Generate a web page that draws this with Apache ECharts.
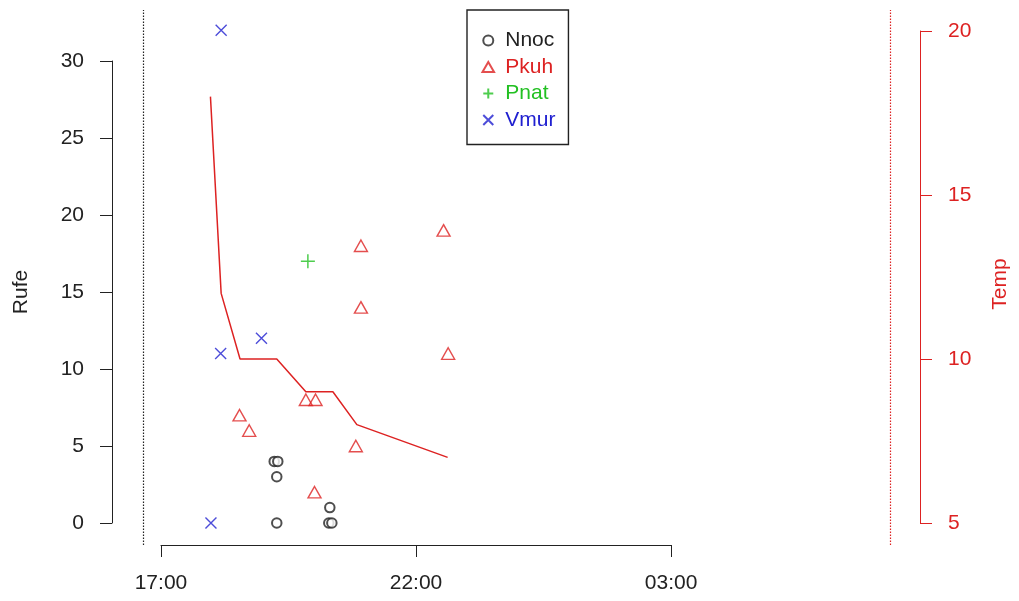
<!DOCTYPE html>
<html>
<head>
<meta charset="utf-8">
<script src="https://cdn.jsdelivr.net/npm/echarts@6/dist/echarts.min.js"></script>
<style>
html, body { margin: 0; padding: 0; background: #fff; }
#main { width: 1019px; height: 601px; }
</style>
</head>
<body>
<div id="main"></div>
<script>
// zeit in stunden (24+ = naechster tag), werte = anzahl rufe
var nnocTime = [19.22, 19.29, 19.27, 19.27, 20.31, 20.29, 20.35];
var nnocRufe = [4, 4, 3, 0, 1, 0, 0];

var pkuhTime = [20.92, 22.63, 19.84, 20.03, 18.54, 18.73, 20.82, 20.01, 20.92, 22.54];
var pkuhRufe = [14, 11, 8, 8, 7, 6, 5, 2, 18, 19];

var pnatTime = [19.88];
var pnatRufe = [17];

var vmurTime = [18.18, 18.17, 18.97, 17.98];
var vmurRufe = [32, 11, 12, 0];

// temperatur
var tempTime = [17.97, 18.18, 18.55, 19.27, 19.84, 20.37, 20.84, 22.62];
var tempVal = [18, 12, 10, 10, 9, 9, 8, 7];

// sonnenuntergang / -aufgang
var sunset = 16.65;
var sunrise = 31.29;

var xTicks = [17, 22, 27];
var rufeTicks = [0, 30];
var tempTicks = [5, 20];

var RED = '#DD2222';
var GREEN = '#22C022';
var BLUE = '#2020D0';
var INK = '#222';
var FONT = '"Liberation Sans", Arial, sans-serif';
var FS = 21;

// plotbereich
var plot = { left: 112, right: 99, top: 10, bottom: 56 };
var W = 1019, H = 601;
var pw = W - plot.left - plot.right;
var ph = H - plot.top - plot.bottom;
var xMin = 16.04, xMax = 31.88;
var yMin = -1.43, yMax = 33.31;
var tMin = 4.33, tMax = 20.64;

function zip(a, b) {
	var out = [];
	for (var i = 0; i < a.length; i++) {
		out.push([a[i], b[i]]);
	}
	return out;
}

function fmtTime(v) {
	var h = v % 24;
	return (h < 10 ? '0' : '') + h + ':00';
}

// extra grids nur fuer die achsen im R-stil (linie nur zwischen erstem und letztem tick)
var xl = plot.left + (xTicks[0] - xMin) / (xMax - xMin) * pw;
var xr = plot.left + (xTicks[2] - xMin) / (xMax - xMin) * pw;
var yt = plot.top + (yMax - rufeTicks[1]) / (yMax - yMin) * ph;
var yb = plot.top + (yMax - rufeTicks[0]) / (yMax - yMin) * ph;
var tt = plot.top + (tMax - tempTicks[1]) / (tMax - tMin) * ph;
var tb = plot.top + (tMax - tempTicks[0]) / (tMax - tMin) * ph;

var option = {
	animation: false,
	backgroundColor: '#fff',
	textStyle: { fontFamily: FONT },
	grid: [
		{ left: plot.left, right: plot.right, top: plot.top, bottom: plot.bottom },
		{ left: xl, right: W - xr, top: plot.top, bottom: plot.bottom },
		{ left: plot.left, right: plot.right, top: yt, bottom: H - yb },
		{ left: plot.left, right: plot.right, top: tt, bottom: H - tb }
	],
	xAxis: [
		{ gridIndex: 0, type: 'value', min: xMin, max: xMax, show: false },
		{
			gridIndex: 1, type: 'value', min: xTicks[0], max: xTicks[2], interval: 5,
			axisLine: { show: true, onZero: false, lineStyle: { color: INK, width: 1 } },
			axisTick: { show: true, length: 12, lineStyle: { color: INK } },
			axisLabel: { color: INK, margin: 28, fontFamily: FONT, fontSize: FS, formatter: fmtTime },
			splitLine: { show: false }
		},
		{ gridIndex: 2, type: 'value', min: 0, max: 1, show: false },
		{ gridIndex: 3, type: 'value', min: 0, max: 1, show: false }
	],
	yAxis: [
		{ gridIndex: 0, type: 'value', min: yMin, max: yMax, show: false },
		{ gridIndex: 0, type: 'value', min: tMin, max: tMax, show: false },
		{ gridIndex: 1, type: 'value', min: 0, max: 1, show: false },
		{
			gridIndex: 2, type: 'value', position: 'left', min: rufeTicks[0], max: rufeTicks[1], interval: 5,
			name: 'Rufe', nameLocation: 'middle', nameRotate: 90, nameGap: 80,
			nameTextStyle: { color: INK, fontFamily: FONT, fontSize: FS },
			axisLine: { show: true, onZero: false, lineStyle: { color: INK, width: 1 } },
			axisTick: { show: true, length: 12, lineStyle: { color: INK } },
			axisLabel: { color: INK, margin: 28, fontFamily: FONT, fontSize: FS },
			splitLine: { show: false }
		},
		{
			gridIndex: 3, type: 'value', position: 'right', min: tempTicks[0], max: tempTicks[1], interval: 5,
			name: 'Temp', nameLocation: 'middle', nameRotate: 90, nameGap: 70,
			nameTextStyle: { color: RED, fontFamily: FONT, fontSize: FS, padding: [0, 0, 0, -14] },
			axisLine: { show: true, onZero: false, lineStyle: { color: RED, width: 1 } },
			axisTick: { show: true, length: 12, lineStyle: { color: RED } },
			axisLabel: { color: RED, margin: 28, fontFamily: FONT, fontSize: FS },
			splitLine: { show: false }
		}
	],
	legend: {
		left: 467, top: 10, orient: 'vertical',
		padding: [20, 13, 14, 13],
		itemWidth: 24, itemHeight: 10, itemGap: 5.5,
		borderColor: INK, borderWidth: 1.4,
		selectedMode: false,
		textStyle: { fontFamily: FONT, fontSize: FS },
		data: [
			{ name: 'Nnoc', textStyle: { color: INK } },
			{ name: 'Pkuh', textStyle: { color: RED } },
			{ name: 'Pnat', textStyle: { color: GREEN } },
			{ name: 'Vmur', textStyle: { color: BLUE } }
		]
	},
	series: [
		{
			name: 'Nnoc', type: 'scatter', xAxisIndex: 0, yAxisIndex: 0,
			symbol: 'emptyCircle', symbolSize: 9.5,
			itemStyle: { color: INK, borderColor: INK, borderWidth: 1.2 },
			data: zip(nnocTime, nnocRufe)
		},
		{
			name: 'Pkuh', type: 'scatter', xAxisIndex: 0, yAxisIndex: 0,
			symbol: 'path://M5,0 L10,8.66 L0,8.66 Z', symbolSize: [13, 11.5],
			itemStyle: { color: 'none', borderColor: RED, borderWidth: 1.4 },
			data: zip(pkuhTime, pkuhRufe)
		},
		{
			name: 'Pnat', type: 'scatter', xAxisIndex: 0, yAxisIndex: 0,
			symbol: 'path://M5,0 L5,10 M0,5 L10,5', symbolSize: 14,
			itemStyle: { color: 'none', borderColor: GREEN, borderWidth: 1.5 },
			data: zip(pnatTime, pnatRufe)
		},
		{
			name: 'Vmur', type: 'scatter', xAxisIndex: 0, yAxisIndex: 0,
			symbol: 'path://M0,0 L10,10 M10,0 L0,10', symbolSize: 11,
			itemStyle: { color: 'none', borderColor: BLUE, borderWidth: 1.4 },
			data: zip(vmurTime, vmurRufe),
			markLine: {
				silent: true, symbol: 'none', label: { show: false },
				data: [
					{ xAxis: sunset, lineStyle: { color: INK, type: [1.5, 1.5], width: 1.2 } },
					{ xAxis: sunrise, lineStyle: { color: RED, type: [1.5, 1.5], width: 1.2 } }
				]
			}
		},
		{
			name: 'Temp', type: 'line', xAxisIndex: 0, yAxisIndex: 1,
			showSymbol: false, symbol: 'none',
			lineStyle: { color: RED, width: 1.5 },
			data: zip(tempTime, tempVal)
		}
	]
};

var chart = echarts.init(document.getElementById('main'));
chart.setOption(option);
</script>
</body>
</html>
